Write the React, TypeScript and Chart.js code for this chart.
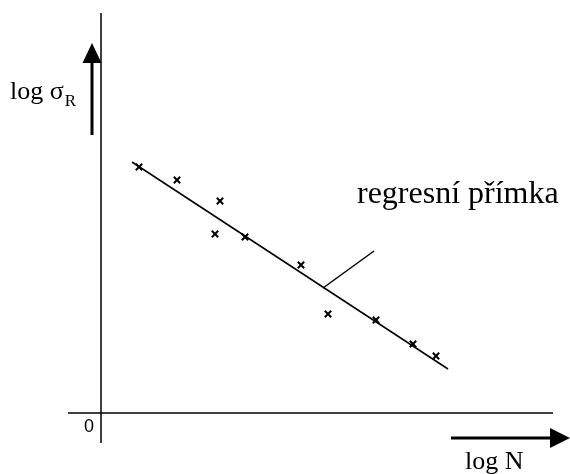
import React, { useEffect, useRef } from "react";
import Chart from "chart.js/auto";

// measured points (log N, log σR) in arbitrary units, origin at axes crossing
const logN = [0.95, 1.9, 2.975, 2.85, 3.6, 5.0, 5.675, 6.875, 7.8, 8.375];
const logSigma = [6.15, 5.825, 5.3, 4.475, 4.4, 3.7, 2.475, 2.325, 1.725, 1.425];

// regression line end points
const regressionN = [0.775, 8.675];
const regressionSigma = [6.275, 1.1];

// pointer from label to the line
const pointerN = [5.55, 6.825];
const pointerSigma = [3.125, 4.05];

// axes
const xAxisN = [-0.825, 11.3];
const yAxisSigma = [10, -0.75];

// arrows: shaft start, head base, tip
const upArrow = { x: -0.225, from: 6.95, base: 8.75, tip: 9.25 };
const rightArrow = { y: -0.625, from: 8.75, base: 11.225, tip: 11.725 };

const labelRegression = "regresní přímka";
const labelN = "log N";
const labelZero = "0";

const toXY = (xs: number[], ys: number[]) => xs.map((x, i) => ({ x, y: ys[i] }));

export default function App() {
  const ref = useRef<HTMLCanvasElement | null>(null);
  useEffect(() => {
    if (!ref.current) return;
    const lineDs = (data: any[], width: number) => ({
      type: "line" as const,
      data,
      borderColor: "#000",
      borderWidth: width,
      pointRadius: 0,
      showLine: true,
      fill: false,
      clip: false as any,
    });
    const decor = {
      id: "decor",
      afterDatasetsDraw(chart: any) {
        const { ctx, scales } = chart;
        const xs = scales.x;
        const ys = scales.y;
        const px = (v: number) => xs.getPixelForValue(v);
        const py = (v: number) => ys.getPixelForValue(v);
        ctx.save();
        ctx.fillStyle = "#000";
        // up arrow head
        const ux = px(upArrow.x);
        ctx.beginPath();
        ctx.moveTo(ux, py(upArrow.tip));
        ctx.lineTo(ux - 9.5, py(upArrow.base));
        ctx.lineTo(ux + 9.5, py(upArrow.base));
        ctx.closePath();
        ctx.fill();
        // right arrow head
        const ry = py(rightArrow.y);
        ctx.beginPath();
        ctx.moveTo(px(rightArrow.tip), ry);
        ctx.lineTo(px(rightArrow.base), ry - 10);
        ctx.lineTo(px(rightArrow.base), ry + 10);
        ctx.closePath();
        ctx.fill();
        // texts
        ctx.textBaseline = "alphabetic";
        ctx.textAlign = "left";
        ctx.font = "26px 'Liberation Serif', serif";
        const lx = px(-2.275);
        const lb = py(7.85);
        ctx.fillText("log σ", lx, lb);
        const w = ctx.measureText("log σ").width;
        ctx.font = "17px 'Liberation Serif', serif";
        ctx.fillText("R", lx + w + 1, lb + 7);
        ctx.font = "32px 'Liberation Serif', serif";
        ctx.fillText(labelRegression, px(6.4), py(5.25));
        ctx.font = "26px 'Liberation Serif', serif";
        ctx.fillText(labelN, px(9.1), py(-1.4));
        ctx.font = "18px 'Liberation Sans', Arial, sans-serif";
        ctx.textAlign = "center";
        ctx.textBaseline = "middle";
        ctx.fillText(labelZero, px(-0.3), py(-0.35));
        ctx.restore();
      },
    };
    const chart = new Chart(ref.current, {
      type: "scatter",
      data: {
        datasets: [
          {
            data: toXY(logN, logSigma),
            pointStyle: "crossRot",
            pointRadius: 4.5,
            borderColor: "#000",
            borderWidth: 2,
            showLine: false,
          } as any,
          lineDs(toXY(regressionN, regressionSigma), 1.5),
          lineDs(toXY(pointerN, pointerSigma), 1.5),
          lineDs(toXY(xAxisN, [0, 0]), 1.5),
          lineDs(toXY([0, 0], yAxisSigma), 1.5),
          lineDs(toXY([upArrow.x, upArrow.x], [upArrow.from, upArrow.base]), 3),
          lineDs(toXY([rightArrow.from, rightArrow.base], [rightArrow.y, rightArrow.y]), 3),
        ],
      },
      options: {
        animation: false,
        responsive: false,
        layout: { padding: 0, autoPadding: false },
        plugins: { legend: { display: false }, tooltip: { enabled: false } },
        scales: {
          x: { type: "linear", min: -2.525, max: 11.725, display: false },
          y: { type: "linear", min: -1.525, max: 10.325, display: false },
        },
      },
      plugins: [decor],
    });
    return () => chart.destroy();
  }, []);
  return (
    <div style={{ position: "fixed", left: 0, top: 0, width: 570, height: 474, background: "#fff" }}>
      <canvas ref={ref} width={570} height={474} />
    </div>
  );
}
